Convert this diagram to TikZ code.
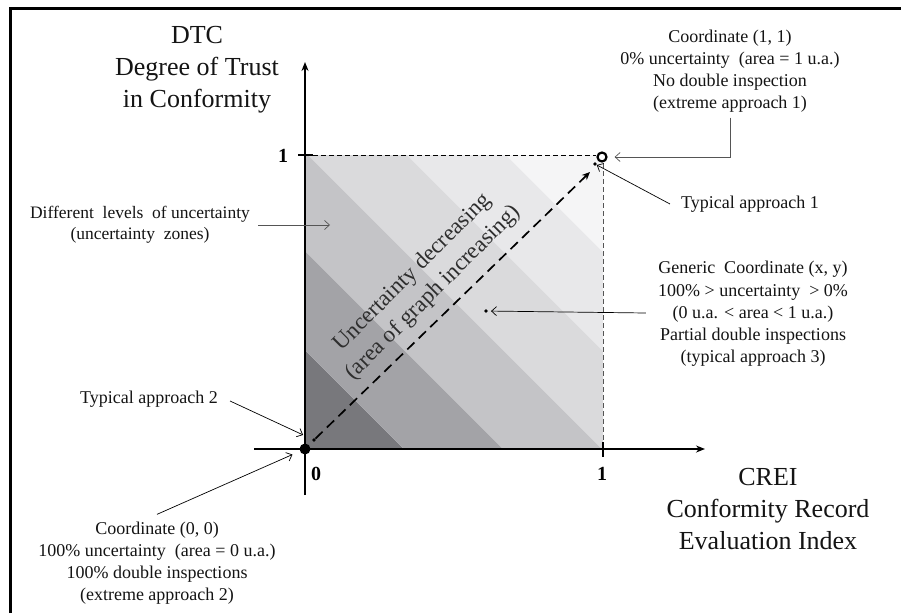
\documentclass[tikz,border=0pt]{standalone}
\usepackage{fontspec}
\setmainfont{Liberation Serif}
\usetikzlibrary{arrows.meta}

% grey levels of the uncertainty zones, darkest near the origin
\definecolor{zoneA}{RGB}{120,120,124}
\definecolor{zoneB}{RGB}{163,163,167}
\definecolor{zoneC}{RGB}{196,196,199}
\definecolor{zoneD}{RGB}{218,218,220}
\definecolor{zoneE}{RGB}{232,232,234}
\definecolor{zoneF}{RGB}{245,245,246}
\definecolor{inkgrey}{RGB}{85,85,85}

\tikzset{
  axis/.style={line width=2.8pt, -{Stealth[length=9pt,width=7pt]}},
  tickmark/.style={line width=2.8pt},
  guide/.style={line width=0.8pt, dash pattern=on 5pt off 3pt},
  conn/.style={line width=0.7pt, -{Straight Barb[length=5pt,width=9pt]}},
  greyconn/.style={conn, draw=inkgrey},
  axistitle/.style={align=center, font=\fontsize{26}{32}\selectfont, text=black!92},
  note/.style={align=center, font=\fontsize{18}{22.2}\selectfont, text=black!92, inner sep=2pt},
  ticklabel/.style={font=\fontsize{20}{24}\selectfont\bfseries, text=black},
  bigdot/.style={circle, fill=black, inner sep=0pt, minimum size=11pt},
  smalldot/.style={circle, fill=black, inner sep=0pt, minimum size=3.6pt},
  ring/.style={circle, draw=black, line width=2.2pt, fill=white, inner sep=0pt, minimum size=9pt}
}

\begin{document}
\begin{tikzpicture}[x=1pt, y=-1pt]
\useasboundingbox (0,0) rectangle (901,613);
\fill[white] (0,0) rectangle (901,613);

% frame lines
\draw[line width=3pt] (10,613) -- (10,8) -- (901,8);

% uncertainty zones: six diagonal bands inside the unit square
\begin{scope}
  \clip (305,449) rectangle (603,155);
  \foreach \k/\c in {0/zoneA,1/zoneB,2/zoneC,3/zoneD,4/zoneE,5/zoneF}{
    \fill[\c] ({305+99*\k},449) -- ({305+99*(\k+1)},449)
      -- (305,{449-99*(\k+1)}) -- (305,{449-99*\k}) -- cycle;
  }
\end{scope}

% guide lines to the point (1,1)
\draw[guide, draw=black] (313,155) -- (596,155);
\draw[guide, draw=inkgrey] (603,163) -- (603,446);

% axes and ticks
\draw[axis] (305,495) -- (305,62);
\draw[axis] (254,449) -- (705,449);
\draw[tickmark] (298,155) -- (313,155);
\draw[tickmark] (603,442) -- (603,457);

% tick labels
\node[ticklabel] (ylab1) at (283,156) {1};
\node[ticklabel] (xlab1) at (602,474) {1};
\node[ticklabel] (xlab0) at (316,474) {0};

% axis titles
\node[axistitle] (dtc) at (197,70) {DTC\\Degree of Trust\\in Conformity};
\node[axistitle] (crei) at (768,509) {CREI\\Conformity Record\\Evaluation Index};

% marked points
\node[bigdot] (o) at (305,449) {};
\node[ring] (one) at (602,157) {};
\node[smalldot] (ta1) at (595,164) {};
\node[smalldot] (ta2) at (314,440) {};
\node[smalldot] (gen) at (486,311) {};
\coordinate (zone) at (330,225);

% diagonal direction of decreasing uncertainty
\draw[line width=1.7pt, dash pattern=on 10pt off 6pt,
      -{Stealth[length=8pt,width=7pt]}] (ta2) -- (590,172) coordinate (diagtip);
\node[rotate=45, align=center, font=\fontsize{23}{29}\selectfont, text=black!82]
  (unc) at (423,283) {Uncertainty decreasing\\(area of graph increasing)};

% annotations (a positive yshift moves a point up the page)
\node[note] (c11) at (730,71)
  {Coordinate (1, 1)\\0\% uncertainty~ (area = 1 u.a.)\\No double inspection\\(extreme approach 1)};
\draw[greyconn, shorten >=7pt] ([yshift=-3pt]c11.south) |- (one.east);

\node[note] (t1) at (750,204) {Typical approach 1};
\draw[conn] ([xshift=-9pt]t1.west) -- (ta1);

\node[note] (gtext) at (753,314)
  {Generic~ Coordinate (x, y)\\100\% > uncertainty~ > 0\%\\(0 u.a. < area < 1 u.a.)\\Partial double inspections\\(typical approach 3)};
\draw[conn, shorten >=3pt] ([xshift=-10pt,yshift=1pt]gtext.west) -- (gen);

\node[note, font=\fontsize{17.5}{21}\selectfont] (levels) at (140,225)
  {Different~ levels~ of uncertainty\\(uncertainty~ zones)};
\draw[greyconn] ([xshift=6pt]levels.east) -- (zone);

\node[note] (t2) at (149,399) {Typical approach 2};
\draw[conn, shorten >=10pt] ([xshift=10pt,yshift=-2pt]t2.east) -- (ta2);

\node[note] (c00) at (157,563)
  {Coordinate (0, 0)\\100\% uncertainty~ (area = 0 u.a.)\\100\% double inspections\\(extreme approach 2)};
\draw[conn, shorten >=8pt] ([yshift=5pt]c00.north) -- (o);
\end{tikzpicture}
\end{document}
